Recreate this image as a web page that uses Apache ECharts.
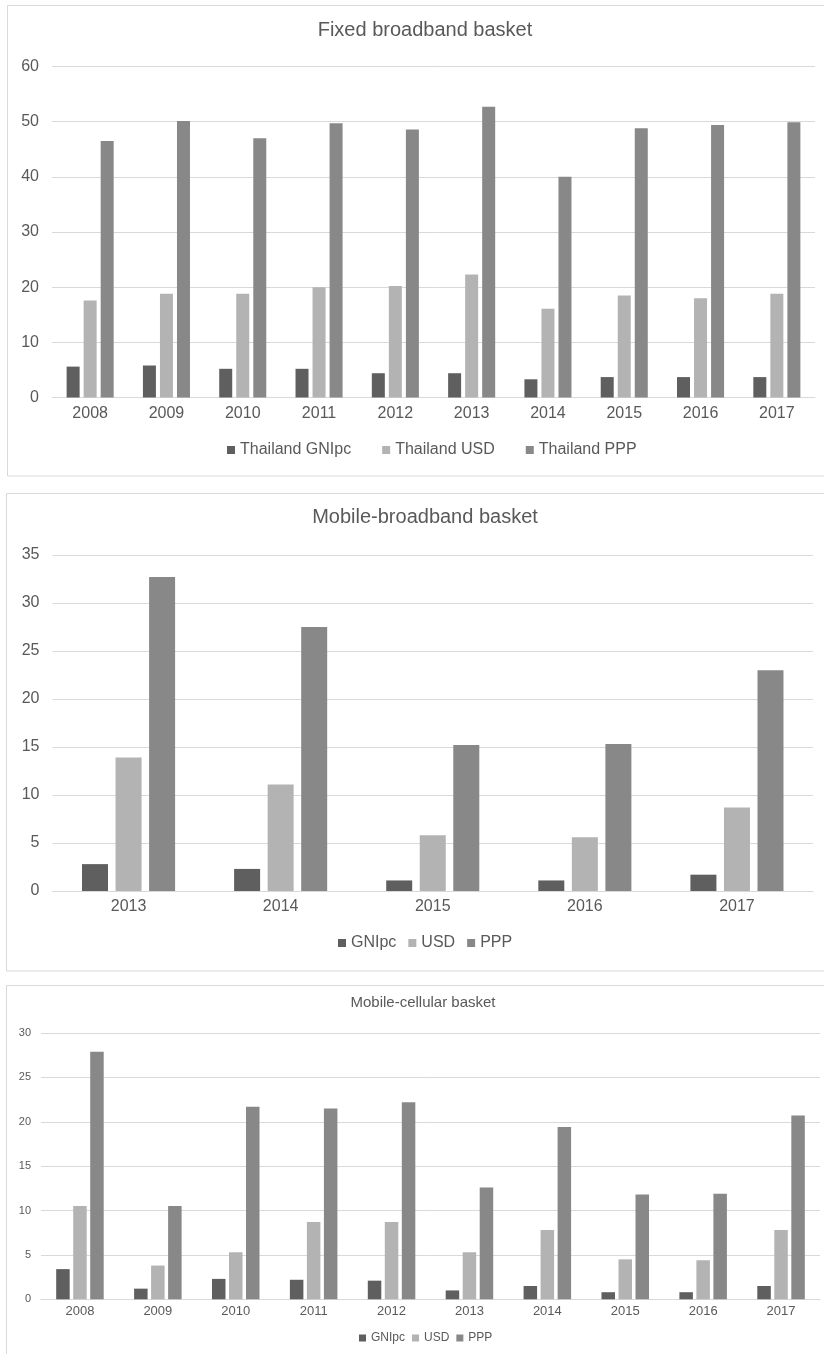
<!DOCTYPE html>
<html>
<head>
<meta charset="utf-8">
<title>Thailand ICT price baskets</title>
<script src="https://cdn.jsdelivr.net/npm/echarts@6/dist/echarts.min.js"></script>
<style>
  html, body { margin: 0; padding: 0; background: #ffffff; }
  #chart { width: 824px; height: 1354px; }
</style>
</head>
<body>
<div id="chart"></div>
<script>
// ---- Fixed broadband basket ----
const fixedYears = ['2008', '2009', '2010', '2011', '2012', '2013', '2014', '2015', '2016', '2017'];
const fixedGNIpc = [5.6, 5.8, 5.2, 5.2, 4.4, 4.4, 3.3, 3.7, 3.7, 3.7];
const fixedUSD   = [17.6, 18.8, 18.8, 20.0, 20.2, 22.3, 16.1, 18.5, 18.0, 18.8];
const fixedPPP   = [46.5, 50.1, 47.0, 49.7, 48.6, 52.7, 40.0, 48.8, 49.4, 49.9];
const fixedNames = ['Thailand GNIpc', 'Thailand USD', 'Thailand PPP'];
const fixedAxis  = [0, 60, 10];

// ---- Mobile-broadband basket ----
const mbbYears = ['2013', '2014', '2015', '2016', '2017'];
const mbbGNIpc = [2.8, 2.3, 1.1, 1.1, 1.7];
const mbbUSD   = [13.9, 11.1, 5.8, 5.6, 8.7];
const mbbPPP   = [32.7, 27.5, 15.2, 15.3, 23.0];
const mbbNames = ['GNIpc', 'USD', 'PPP'];
const mbbAxis  = [0, 35, 5];

// ---- Mobile-cellular basket ----
const cellYears = ['2008', '2009', '2010', '2011', '2012', '2013', '2014', '2015', '2016', '2017'];
const cellGNIpc = [3.4, 1.2, 2.3, 2.2, 2.1, 1.0, 1.5, 0.8, 0.8, 1.5];
const cellUSD   = [10.5, 3.8, 5.3, 8.7, 8.7, 5.3, 7.8, 4.5, 4.4, 7.8];
const cellPPP   = [27.9, 10.5, 21.7, 21.5, 22.2, 12.6, 19.4, 11.8, 11.9, 20.7];
const cellNames = ['GNIpc', 'USD', 'PPP'];
const cellAxis  = [0, 30, 5];

const COLORS = ['#5f5f5f', '#b3b3b3', '#888888'];
const TEXT = '#595959';
const LINE = '#d9d9d9';
const FONT = '"Liberation Sans", Arial, Helvetica, sans-serif';

function xAxisFor(gridIndex, cats, fontSize, margin) {
  return {
    type: 'category', gridIndex: gridIndex, data: cats,
    axisLine: { show: true, lineStyle: { color: LINE, width: 1 } },
    axisTick: { show: false },
    axisLabel: { color: TEXT, fontSize: fontSize, fontFamily: FONT, margin: margin }
  };
}
function yAxisFor(gridIndex, range, fontSize, margin) {
  return {
    type: 'value', gridIndex: gridIndex, min: range[0], max: range[1], interval: range[2],
    axisLine: { show: false }, axisTick: { show: false },
    splitLine: { lineStyle: { color: LINE, width: 1 } },
    axisLabel: { color: TEXT, fontSize: fontSize, fontFamily: FONT, margin: margin }
  };
}
function barSeries(name, data, idx, colorIdx, barWidth, barGap) {
  return {
    type: 'bar', name: name, data: data, xAxisIndex: idx, yAxisIndex: idx,
    barWidth: barWidth, barGap: barGap,
    itemStyle: { color: COLORS[colorIdx] },
    emphasis: { disabled: true }, animation: false
  };
}
function legendFor(names, left, top, fontSize, iconSize, gap) {
  return {
    data: names, left: left, top: top, orient: 'horizontal',
    icon: 'rect', itemWidth: iconSize, itemHeight: iconSize, itemGap: gap,
    selectedMode: false, padding: 0,
    textStyle: { color: TEXT, fontSize: fontSize, fontFamily: FONT }
  };
}
function titleFor(text, x, top, fontSize) {
  return {
    text: text, left: x, top: top, textAlign: 'center', padding: 0,
    textStyle: { color: TEXT, fontSize: fontSize, fontWeight: 'normal', fontFamily: FONT }
  };
}
function frame(x, y, h) {
  return {
    type: 'rect', silent: true,
    shape: { x: x, y: y, width: 840, height: h },
    style: { fill: 'none', stroke: LINE, lineWidth: 1 }
  };
}

const chart = echarts.init(document.getElementById('chart'), null, { renderer: 'canvas' });

chart.setOption({
  backgroundColor: '#ffffff',
  animation: false,
  graphic: [frame(7.5, 5.5, 470.5), frame(6.5, 493.5, 477.5), frame(6.5, 985.5, 420)],
  title: [
    titleFor('Fixed broadband basket', 425, 20, 20),
    titleFor('Mobile-broadband basket', 425, 507, 20),
    titleFor('Mobile-cellular basket', 423, 995, 15)
  ],
  legend: [
    legendFor(fixedNames, 227, 442, 16, 8, 31),
    legendFor(mbbNames, 338, 935, 16, 8, 12),
    legendFor(cellNames, 359, 1332, 12, 7, 7)
  ],
  grid: [
    { left: 52, top: 66.5, width: 763, height: 331 },
    { left: 52.5, top: 555, width: 760.5, height: 336 },
    { left: 41, top: 1033, width: 779, height: 266.3 }
  ],
  xAxis: [
    xAxisFor(0, fixedYears, 16, 8),
    xAxisFor(1, mbbYears, 16, 8),
    xAxisFor(2, cellYears, 13, 6)
  ],
  yAxis: [
    yAxisFor(0, fixedAxis, 16, 13),
    yAxisFor(1, mbbAxis, 16, 13),
    yAxisFor(2, cellAxis, 11, 10)
  ],
  series: [
    barSeries(fixedNames[0], fixedGNIpc, 0, 0, 13, '31%'),
    barSeries(fixedNames[1], fixedUSD, 0, 1, 13, '31%'),
    barSeries(fixedNames[2], fixedPPP, 0, 2, 13, '31%'),
    barSeries(mbbNames[0], mbbGNIpc, 1, 0, 26, '29%'),
    barSeries(mbbNames[1], mbbUSD, 1, 1, 26, '29%'),
    barSeries(mbbNames[2], mbbPPP, 1, 2, 26, '29%'),
    barSeries(cellNames[0], cellGNIpc, 2, 0, 13.5, '26%'),
    barSeries(cellNames[1], cellUSD, 2, 1, 13.5, '26%'),
    barSeries(cellNames[2], cellPPP, 2, 2, 13.5, '26%')
  ]
});
</script>
</body>
</html>
